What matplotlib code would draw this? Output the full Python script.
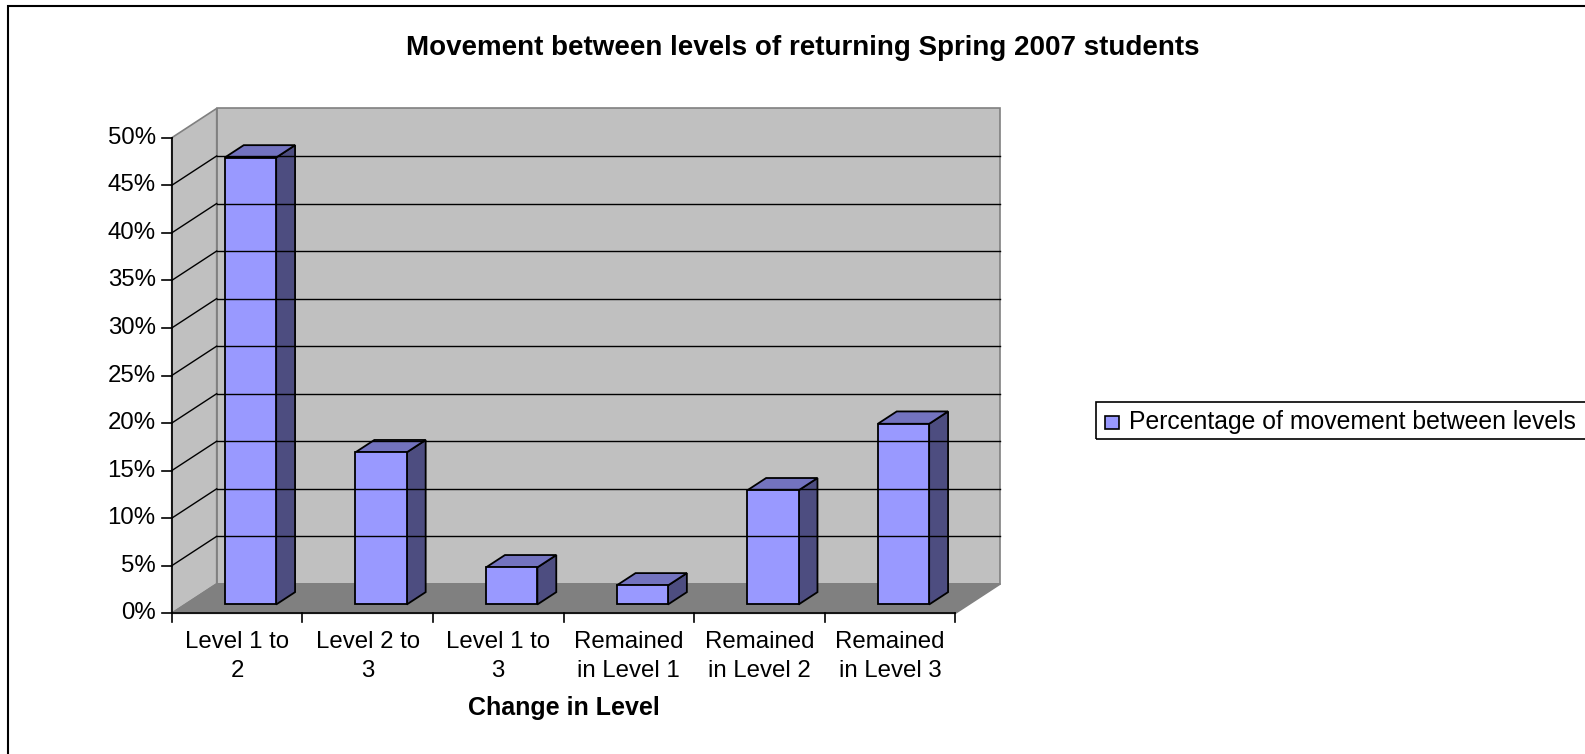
import numpy as np
import matplotlib.pyplot as plt
from matplotlib.patches import Polygon, Rectangle

categories = ["Level 1 to\n2", "Level 2 to\n3", "Level 1 to\n3",
              "Remained\nin Level 1", "Remained\nin Level 2", "Remained\nin Level 3"]
values = [47.0, 16.0, 3.9, 2.0, 12.0, 19.0]
yticks = np.arange(0, 51, 5)
ytick_labels = [f"{t}%" for t in yticks]
series_name = "Percentage of movement between levels"
title = "Movement between levels of returning Spring 2007 students"
xlabel = "Change in Level"

plt.rcParams['font.family'] = ['Liberation Sans', 'DejaVu Sans']

W, H = 1585, 754
fig = plt.figure(figsize=(W / 100, H / 100), dpi=100)


def fx(px):
    return px / W


def fy(px):
    return 1 - px / H


# pixel geometry of the fake 3d box
x0_px, y0_px = 171.7, 613.3
cat_px = 130.6
pct_px = 9.51
dep_dx, dep_dy = 45.0, 29.4

n = len(categories)
ymax = 50
dx = dep_dx / cat_px
dy = dep_dy / pct_px

ax = fig.add_axes([x0_px / W, (H - y0_px) / H,
                   (n * cat_px + dep_dx) / W, (ymax * pct_px + dep_dy) / H])
ax.set_xlim(0, n + dx)
ax.set_ylim(0, ymax + dy)
ax.axis('off')

wall = '#C0C0C0'
edge = '#808080'
front_c, side_c, top_c = '#9999FF', '#4D4D80', '#7373BF'
fs = 17.3

# walls and floor
ax.add_patch(Polygon([(dx, dy), (n + dx, dy), (n + dx, ymax + dy), (dx, ymax + dy)],
                     closed=True, fc=wall, ec=edge, lw=1.2, clip_on=False))
ax.add_patch(Polygon([(0, 0), (dx, dy), (dx, ymax + dy), (0, ymax)],
                     closed=True, fc=wall, ec=edge, lw=1.2, clip_on=False))
ax.add_patch(Polygon([(0, 0), (n, 0), (n + dx, dy), (dx, dy)],
                     closed=True, fc='#808080', ec=edge, lw=1.2, clip_on=False))

# gridlines
for t in yticks[1:-1]:
    ax.plot([dx, n + dx], [t + dy, t + dy], color='black', lw=1, clip_on=False)
    ax.plot([0, dx], [t, t + dy], color='black', lw=1, clip_on=False)

# axis lines and ticks
ax.plot([0, 0], [0, ymax], color='black', lw=1.2, clip_on=False)
ax.plot([0, n], [0, 0], color='black', lw=1.2, clip_on=False)
for t, lab in zip(yticks, ytick_labels):
    ax.plot([-10 / cat_px, 0], [t, t], color='black', lw=1.2, clip_on=False)
    ax.text(-16 / cat_px, t, lab, ha='right', va='center', fontsize=fs)
for i in range(n + 1):
    ax.plot([i, i], [0, -9 / pct_px], color='black', lw=1.2, clip_on=False)

# bars
bw = 0.393
f0, f1 = 0.3, 0.72
for i, v in enumerate(values):
    l = i + 0.5 - bw / 2
    r = i + 0.5 + bw / 2
    a, b = f0 * dx, f0 * dy
    c, d = f1 * dx, f1 * dy
    ax.add_patch(Polygon([(r + a, b), (r + c, d), (r + c, v + d), (r + a, v + b)],
                         closed=True, fc=side_c, ec='black', lw=1.3, clip_on=False))
    ax.add_patch(Polygon([(l + a, v + b), (r + a, v + b), (r + c, v + d), (l + c, v + d)],
                         closed=True, fc=top_c, ec='black', lw=1.3, clip_on=False))
    ax.add_patch(Polygon([(l + a, b), (r + a, b), (r + a, v + b), (l + a, v + b)],
                         closed=True, fc=front_c, ec='black', lw=1.3, clip_on=False))

for i, lab in enumerate(categories):
    ax.text(i + 0.5, -18 / pct_px, lab, ha='center', va='top', fontsize=fs,
            linespacing=1.42)

ax.text(n / 2, -95 / pct_px, xlabel, ha='center', va='center', fontsize=18,
        fontweight='bold')

fig.text(fx(803), fy(48), title, ha='center', va='center', fontsize=20,
         fontweight='bold')

# legend box
fig.patches.append(Rectangle((fx(1096), fy(439)), fx(520), 37 / H, transform=fig.transFigure,
                             fill=False, ec='black', lw=1.2))
fig.patches.append(Rectangle((fx(1105), fy(429)), fx(14), 13 / H, transform=fig.transFigure,
                             fc=front_c, ec='black', lw=1.2))
fig.text(fx(1129), fy(422), series_name, ha='left', va='center', fontsize=17.8)

# outer chart border
fig.patches.append(Rectangle((fx(8), -0.1), 1.2, 1.1 - 6 / H, transform=fig.transFigure,
                             fill=False, ec='black', lw=1.5))

fig.savefig('out.png', dpi=100)
